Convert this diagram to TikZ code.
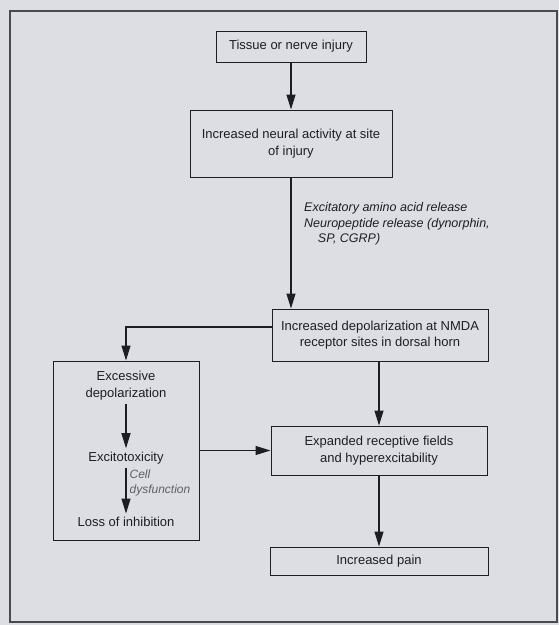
\documentclass[tikz,border=0pt]{standalone}
\usepackage{fontspec}
\setmainfont{Liberation Sans}
\usetikzlibrary{arrows.meta, positioning}
\definecolor{paper}{RGB}{221,222,228}
\definecolor{ink}{RGB}{30,30,34}
\definecolor{note}{RGB}{95,95,105}

\begin{document}
\begin{tikzpicture}[
    x=1pt, y=-1pt,
    node distance=0.5cm,
    box/.style={draw=ink, line width=1pt, fill=paper, align=center, text=ink,
      font=\fontsize{13}{16.5}\selectfont, inner sep=3pt},
    txt/.style={align=center, text=ink, font=\fontsize{13}{16.5}\selectfont, inner sep=2pt},
    arr/.style={-{Triangle[length=15pt, width=9pt]}, line width=1.2pt, draw=ink},
    >=Stealth]
  % background and frame
  \useasboundingbox[fill=paper] (0,0) rectangle (559,625);
  \draw[ink!80, line width=1.1pt] (10,11) rectangle (557,622);

  % main column
  \node[box, minimum width=150pt, minimum height=31pt] (inj) at (291,46.5) {Tissue or nerve injury};
  \node[box, minimum width=202pt, minimum height=67pt, below=47pt of inj] (act)
    {Increased neural activity at site\\of injury};
  \node[box, minimum width=216pt, minimum height=52pt, below=131pt of act, xshift=89pt] (dep)
    {Increased depolarization at NMDA\\receptor sites in dorsal horn};
  \node[box, minimum width=216pt, minimum height=49pt, below=64pt of dep, xshift=-1pt] (exp)
    {Expanded receptive fields\\and hyperexcitability};
  \node[box, minimum width=218pt, minimum height=28pt, below=71pt of exp] (pain) {Increased pain};

  % left box
  \node[box, minimum width=146pt, minimum height=179pt, left=71pt of exp] (cas) {};
  \node[txt] (exd) at ([yshift=65pt]cas.center) {Excessive\\depolarization};
  \node[txt] (exc) at ([yshift=-8pt]cas.center) {Excitotoxicity};
  \node[txt] (loss) at ([yshift=-71pt]cas.center) {Loss of inhibition};

  % connectors
  \draw[arr] (inj) -- (act);
  \draw[arr] (act.south) -- (act.south |- dep.north);
  \node[align=left, text=ink, font=\fontsize{12.5}{15.5}\selectfont\itshape, inner sep=0pt,
    below right=25pt and 13pt of act.south] (rel)
    {Excitatory amino acid release\\Neuropeptide release (dynorphin,\\\hspace*{1.1em}SP, CGRP)};
  \draw[arr] ([yshift=8pt]dep.west) -| (cas.north);
  \draw[arr] (dep.south -| exp.north) -- (exp.north);
  \draw[arr] (exp) -- (pain);
  \draw[arr] (cas.east |- exp.west) -- (exp.west);
  \draw[arr] ([yshift=-2pt]exd.south) -- ([yshift=2pt]exc.north);
  \draw[arr] ([yshift=-1pt]exc.south) -- ([yshift=1pt]loss.north)
    node[pos=0, anchor=north west, xshift=3pt, yshift=-1pt, inner sep=0pt, align=left, text=note,
      font=\fontsize{12}{15}\selectfont\itshape] (cel) {Cell\\dysfunction};
\end{tikzpicture}
\end{document}
